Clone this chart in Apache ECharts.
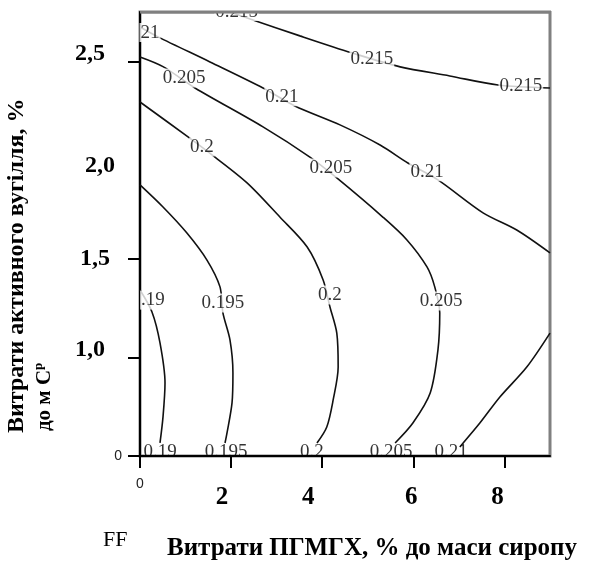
<!DOCTYPE html>
<html>
<head>
<meta charset="utf-8">
<script src="https://cdn.jsdelivr.net/npm/echarts@6/dist/echarts.min.js"></script>
<style>html,body{margin:0;padding:0;background:#fff}#c{width:606px;height:567px}</style>
</head>
<body>
<div id="c"></div>
<script>
// ---- axis ticks / labels ----
const xTickValues = [0, 2, 4, 6, 8];
const xTickLabels = ['0', '2', '4', '6', '8'];
const yLabelValues = [0.5, 1, 1.5, 2, 2.5];
const yTickLabels = ['0', '1,0', '1,5', '2,0', '2,5'];
const yTickMarks = [0.5, 1, 1.5, 2.5];

// ---- contour lines (x: ПГМГХ, y: активне вугілля) ----
const level215top = [[1.975,2.75],[2.48,2.71],[3.51,2.629],[4.65,2.543],[5.71,2.472],[6.80,2.426],[7.86,2.380],[9.0,2.365]];
const level210upper = [[0,2.674],[0.395,2.624],[1.536,2.497],[2.70,2.365],[3.40,2.274],[4.39,2.178],[5.27,2.076],[5.88,1.985],[6.54,1.899],[7.53,1.732],[8.27,1.645],[9.0,1.529]];
const level205 = [[0,2.522],[0.505,2.473],[1.207,2.365],[2.70,2.168],[3.73,2.015],[4.32,1.909],[5.33,1.711],[5.86,1.595],[6.30,1.458],[6.47,1.357],[6.58,1.225],[6.54,1.037],[6.37,0.819],[5.99,0.667],[5.60,0.566]];
const level200 = [[0,2.294],[1.054,2.117],[1.58,2.026],[2.35,1.884],[3.07,1.711],[3.67,1.559],[4.02,1.392],[4.17,1.255],[4.32,1.123],[4.35,0.951],[4.24,0.784],[4.10,0.647],[3.885,0.566]];
const level195 = [[0,1.874],[0.505,1.762],[1.03,1.630],[1.47,1.493],[1.756,1.357],[1.82,1.225],[1.975,1.088],[2.04,0.921],[2.02,0.769],[1.91,0.617],[1.866,0.566]];
const level190 = [[0,1.341],[0.263,1.230],[0.439,1.073],[0.549,0.870],[0.505,0.698],[0.439,0.566]];
const level210lower = [[9.0,1.123],[8.49,0.951],[7.90,0.799],[7.46,0.667],[7.02,0.546]];

// ---- contour labels [x, y, text] ----
const inlineLabels = [
  [2.12,2.752,'0.215'],[5.09,2.51,'0.215'],[8.36,2.375,'0.215'],
  [0.22,2.646,'21'],[3.117,2.32,'0.21'],[6.30,1.94,'0.21'],
  [0.966,2.416,'0.205'],[4.19,1.96,'0.205'],[6.61,1.286,'0.205'],
  [1.36,2.066,'0.2'],[4.17,1.316,'0.2'],
  [1.82,1.275,'0.195'],
  [0.285,1.29,'.19']
];
const edgeLabels = [
  [0.44,0.52,'0.19'],[1.89,0.52,'0.195'],[3.775,0.52,'0.2'],[5.51,0.52,'0.205'],[6.83,0.52,'0.21']
];

const contours = [level215top, level210upper, level205, level200, level195, level190, level210lower];

const yPad = {'0':[0,18,0,0],'1,0':[0,35,16,0],'1,5':[0,30,0,0],'2,0':[12,25,0,0],'2,5':[0,35,16,0]};
const xPad = {'0':[0,0,0,0],'2':[8,18,0,0],'4':[8,28,0,0],'6':[8,4,0,0],'8':[8,14,0,0]};
const yRich = {}, xRich = {};
yTickLabels.forEach((t,i)=>{
  yRich['y'+i] = t==='0' ? {fontSize:14,fontFamily:'Liberation Sans',color:'#222',padding:yPad[t]}
    : {fontSize:24,fontWeight:'bold',fontFamily:'Liberation Serif',color:'#000',padding:yPad[t]};
});
xTickLabels.forEach((t,i)=>{
  xRich['x'+i] = t==='0' ? {fontSize:14,fontFamily:'Liberation Sans',color:'#222',padding:xPad[t]}
    : {fontSize:25,fontWeight:'bold',fontFamily:'Liberation Serif',color:'#000',padding:xPad[t]};
});

const series = contours.map(d => ({
  type:'line', data:d, showSymbol:false, smooth:0.3, silent:true, z:2, clip:false,
  lineStyle:{color:'#111', width:1.6}
}));
const labelFont = {fontSize:19, fontFamily:'Liberation Serif', color:'#000'};
series.push({
  type:'scatter', data:inlineLabels, symbolSize:1, itemStyle:{color:'rgba(0,0,0,0)'}, z:5, clip:false, silent:true,
  label:Object.assign({show:true, position:'inside', formatter:p=>p.value[2], backgroundColor:'#fff', padding:[0,1]}, labelFont)
});
series.push({
  type:'scatter', data:edgeLabels, symbolSize:1, itemStyle:{color:'rgba(0,0,0,0)'}, z:5, clip:false, silent:true,
  label:Object.assign({show:true, position:'inside', formatter:p=>p.value[2]}, labelFont)
});

const chart = echarts.init(document.getElementById('c'), null, {renderer:'canvas'});
chart.setOption({
  animation:false,
  backgroundColor:'#fff',
  grid:{left:140, right:56, top:12, bottom:111, show:true, borderColor:'#808080', borderWidth:3, outerBoundsMode:'none'},
  xAxis:{type:'value', min:0, max:9, interval:1, splitLine:{show:false},
    axisLine:{lineStyle:{color:'#000', width:2}},
    axisTick:{customValues:xTickValues, length:12, lineStyle:{color:'#000', width:2}},
    axisLabel:{customValues:xTickValues, margin:21, formatter:v=>{const i=xTickValues.indexOf(v); return '{x'+i+'|'+xTickLabels[i]+'}';}, rich:xRich}
  },
  yAxis:{type:'value', min:0.5, max:2.75, interval:0.5, splitLine:{show:false},
    axisLine:{lineStyle:{color:'#000', width:2}},
    axisTick:{customValues:yTickMarks, length:12, lineStyle:{color:'#000', width:2}},
    axisLabel:{customValues:yLabelValues, margin:0, formatter:v=>{const i=yLabelValues.indexOf(v); return '{y'+i+'|'+yTickLabels[i]+'}';}, rich:yRich}
  },
  graphic:[
    {type:'rect', shape:{x:140, y:0, width:420, height:11}, style:{fill:'#fff'}, z:100, zlevel:1},
    {type:'line', shape:{x1:140, y1:12, x2:551, y2:12}, style:{stroke:'#808080', lineWidth:3}, z:101, zlevel:1},
    {type:'text', x:17, y:433, rotation:Math.PI/2, z:10,
      style:{text:'Витрати активного вугілля, %', font:'bold 24px "Liberation Serif"', fill:'#000', align:'left', verticalAlign:'middle'}},
    {type:'text', x:45, y:431, rotation:Math.PI/2, z:10,
      style:{text:'до м С{s|р}', font:'bold 21px "Liberation Serif"', fill:'#000', align:'left', verticalAlign:'middle',
        rich:{s:{font:'bold 13px "Liberation Serif"', fill:'#000', padding:[0,0,12,0]}}}},
    {type:'text', x:103, y:540, z:10,
      style:{text:'FF', font:'22px "Liberation Serif"', fill:'#000', align:'left', verticalAlign:'middle'}},
    {type:'text', x:167, y:549, z:10,
      style:{text:'Витрати ПГМГХ, % до маси сиропу', font:'bold 25px "Liberation Serif"', fill:'#000', align:'left', verticalAlign:'middle'}}
  ],
  series:series
});
</script>
</body>
</html>
